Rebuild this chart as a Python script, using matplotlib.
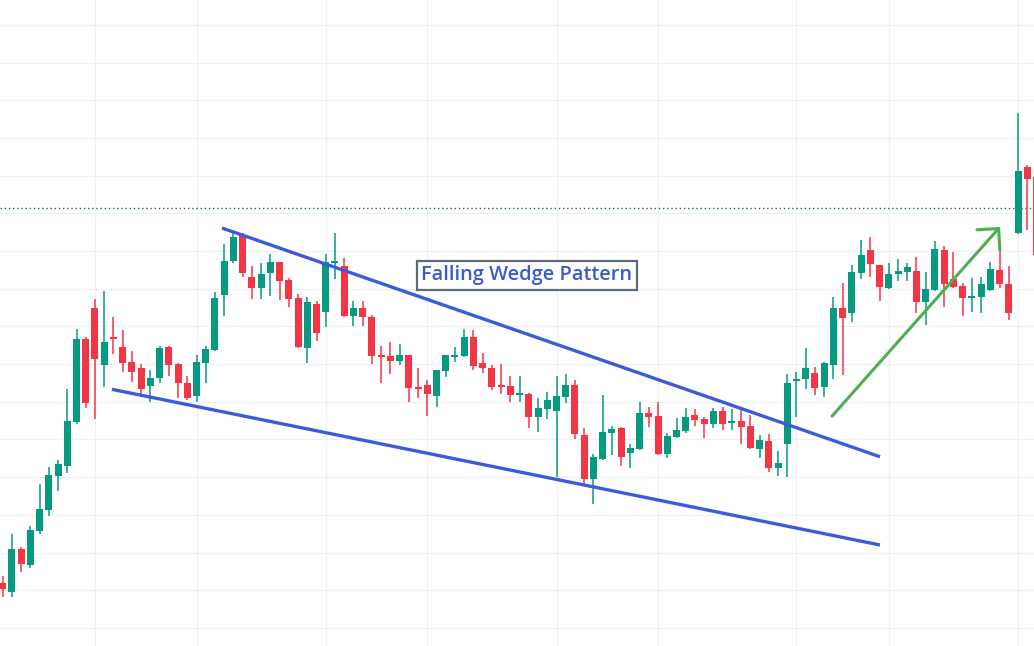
import matplotlib
matplotlib.use("Agg")
import matplotlib.pyplot as plt
from matplotlib.patches import FancyArrowPatch

# daily candles (price units: one grid step = 10)
opens = [111.9, 109.6, 121.0, 116.7, 125.7, 131.3, 140.3, 143.0, 154.7, 176.7,
         184.9, 169.8, 177.2, 174.5, 170.6, 169.0, 164.2, 166.3, 174.5, 170.0,
         165.0, 161.5, 170.3, 173.8, 188.3, 197.4, 204.3, 193.1, 190.2, 194.2,
         197.1, 192.3, 187.5, 174.3, 186.0, 183.8, 196.8, 196.0, 182.8, 184.9,
         182.5, 172.4, 172.2, 170.8, 172.4, 163.9, 164.5, 161.5, 168.2, 171.9,
         172.2, 177.2, 170.3, 169.0, 164.5, 164.2, 161.8, 162.1, 156.0, 158.1,
         157.6, 161.3, 164.5, 151.2, 139.5, 144.8, 151.7, 153.1, 146.4, 147.5,
         157.0, 156.2, 146.2, 150.7, 152.3, 156.5, 155.4, 154.1, 157.6, 154.4,
         154.9, 153.6, 147.5, 149.6, 142.4, 148.8, 165.5, 166.1, 167.7, 163.9,
         169.8, 184.9, 183.6, 194.2, 200.3, 196.3, 190.2, 193.9, 194.4, 194.7,
         186.5, 189.7, 200.3, 192.6, 190.7, 187.5, 187.8, 189.7, 195.0, 191.3,
         204.8, 222.3, 219.7]
highs = [113.8, 124.9, 121.5, 127.1, 138.2, 142.7, 144.6, 163.4, 179.3, 177.2,
         187.3, 189.4, 182.5, 179.1, 173.5, 170.0, 168.4, 174.8, 174.8, 170.2,
         166.9, 172.4, 174.8, 189.1, 201.9, 204.8, 204.8, 196.0, 196.8, 199.2,
         197.2, 192.9, 188.6, 187.8, 186.8, 199.2, 204.8, 198.2, 186.8, 186.8,
         183.0, 174.8, 175.9, 175.3, 172.5, 169.0, 165.8, 168.5, 172.5, 174.5,
         179.3, 179.1, 173.0, 169.8, 170.0, 166.9, 166.9, 162.2, 161.0, 162.6,
         166.9, 167.4, 165.8, 153.1, 146.2, 161.8, 153.6, 153.3, 148.8, 160.0,
         158.6, 160.0, 151.7, 155.7, 158.4, 158.1, 156.0, 158.4, 158.6, 158.1,
         158.6, 156.5, 151.2, 151.5, 147.0, 167.4, 167.9, 174.3, 169.1, 170.6,
         187.8, 191.5, 196.3, 202.9, 203.7, 196.4, 196.8, 197.9, 196.8, 198.4,
         194.4, 202.7, 201.3, 199.8, 191.5, 192.9, 193.1, 197.1, 200.6, 196.0,
         236.6, 222.8, 221.0]
lows = [108.2, 108.2, 114.9, 115.9, 124.9, 129.7, 136.3, 141.1, 154.1, 158.4,
        155.4, 163.9, 172.7, 167.9, 165.3, 161.8, 160.0, 165.0, 166.9, 161.0,
        160.5, 160.0, 165.0, 173.5, 182.8, 196.8, 193.1, 187.3, 187.3, 188.1,
        187.0, 185.2, 174.3, 170.3, 176.1, 179.9, 192.6, 182.6, 180.1, 180.1,
        170.0, 165.0, 167.4, 169.8, 160.0, 161.0, 156.2, 158.6, 166.6, 170.6,
        172.0, 168.4, 167.7, 163.1, 162.1, 160.0, 160.0, 153.1, 152.0, 155.4,
        140.1, 159.7, 150.1, 137.9, 132.9, 144.6, 145.9, 143.0, 142.4, 147.3,
        153.3, 146.0, 145.1, 150.5, 151.7, 153.6, 150.4, 153.1, 152.5, 152.5,
        148.8, 147.6, 145.1, 141.4, 140.3, 140.1, 156.0, 163.4, 161.8, 161.3,
        166.1, 167.1, 181.2, 192.6, 193.1, 186.8, 190.0, 192.1, 192.1, 183.6,
        180.4, 189.5, 185.2, 190.3, 182.8, 183.8, 183.6, 189.5, 190.2, 181.7,
        204.6, 205.6, 196.3]
closes = [110.3, 121.0, 117.0, 126.0, 131.6, 140.6, 143.5, 154.9, 176.7, 159.7,
          171.4, 175.9, 176.7, 170.3, 167.9, 163.4, 166.3, 174.3, 169.8, 165.0,
          161.0, 170.6, 174.0, 187.5, 197.4, 203.7, 194.2, 190.2, 193.9, 197.1,
          192.1, 187.3, 174.5, 186.5, 178.3, 197.1, 197.4, 182.8, 184.9, 182.5,
          172.2, 171.9, 170.8, 172.4, 163.7, 163.4, 162.1, 168.4, 172.4, 172.4,
          177.2, 169.5, 169.0, 163.9, 163.9, 161.8, 162.3, 156.0, 158.4, 160.5,
          161.5, 164.5, 151.5, 139.5, 145.4, 152.0, 152.8, 145.4, 147.8, 157.0,
          156.0, 146.2, 150.9, 152.5, 156.0, 155.2, 154.1, 157.6, 154.1, 154.9,
          153.3, 147.8, 149.9, 142.4, 143.8, 165.0, 166.1, 169.0, 163.7, 170.3,
          184.9, 182.2, 194.4, 199.0, 196.6, 190.5, 193.9, 194.7, 195.8, 186.5,
          189.9, 200.6, 191.3, 190.5, 187.5, 187.8, 191.3, 195.2, 191.3, 183.6,
          221.2, 219.1, 199.0]

# candle indices where the date grid falls
date_grid = [10, 21, 35, 46, 60, 71, 86, 96, 110]
price_grid = list(range(100, 270, 10))
last_price = 211.3

# drawn annotations (candle index, price)
upper_x = [23.76, 95.05]
upper_y = [206.1, 145.4]
lower_x = [11.84, 95.05]
lower_y = [163.3, 122.0]
arrow_from = (89.85, 156.2)
arrow_to = (108.05, 206.4)
label_pos = (56.8, 193.6)
label = "Falling Wedge Pattern"

UP = "#089981"
DOWN = "#f23645"
BLUE = "#3b5bdb"

fig = plt.figure(figsize=(10.34, 6.46), dpi=100)
ax = fig.add_axes([0, 0, 1, 1])
ax.set_xlim(-0.29, 111.73)
ax.set_ylim(95.2, 266.6)

ax.set_xticks(date_grid)
ax.set_yticks(price_grid)
ax.grid(True, color="#eef0f3", lw=0.9)
ax.set_axisbelow(True)
ax.tick_params(length=0, labelbottom=False, labelleft=False)
for s in ax.spines.values():
    s.set_visible(False)

ax.axhline(last_price, color="#1f6b57", lw=1.0, ls=(0, (1, 2)), zorder=1)

xs = list(range(len(opens)))
colors = [UP if c >= o else DOWN for o, c in zip(opens, closes)]
ax.vlines(xs, lows, highs, colors=colors, lw=1.1, zorder=2)
bottoms = [min(o, c) for o, c in zip(opens, closes)]
heights = [max(abs(c - o), 0.5) for o, c in zip(opens, closes)]
ax.bar(xs, heights, bottom=bottoms, width=0.76, color=colors, lw=0, zorder=3)

ax.plot(upper_x, upper_y, color=BLUE, lw=2.4, solid_capstyle="butt", zorder=4)
ax.plot(lower_x, lower_y, color=BLUE, lw=2.4, solid_capstyle="butt", zorder=4)

arr = FancyArrowPatch(arrow_from, arrow_to,
                      arrowstyle="->,head_length=11,head_width=11",
                      mutation_scale=1, color="#4caf50", lw=2.2,
                      shrinkA=0, shrinkB=0, zorder=5)
ax.add_patch(arr)

ax.text(label_pos[0], label_pos[1], label, ha="center", va="center",
        fontsize=14.4, family=["Open Sans", "DejaVu Sans"], fontweight="semibold",
        color="#3a5bd0", zorder=6,
        bbox=dict(boxstyle="square,pad=0.22", fc="white", ec="#5d6b78", lw=1.6))

fig.savefig("out.png", dpi=100)
